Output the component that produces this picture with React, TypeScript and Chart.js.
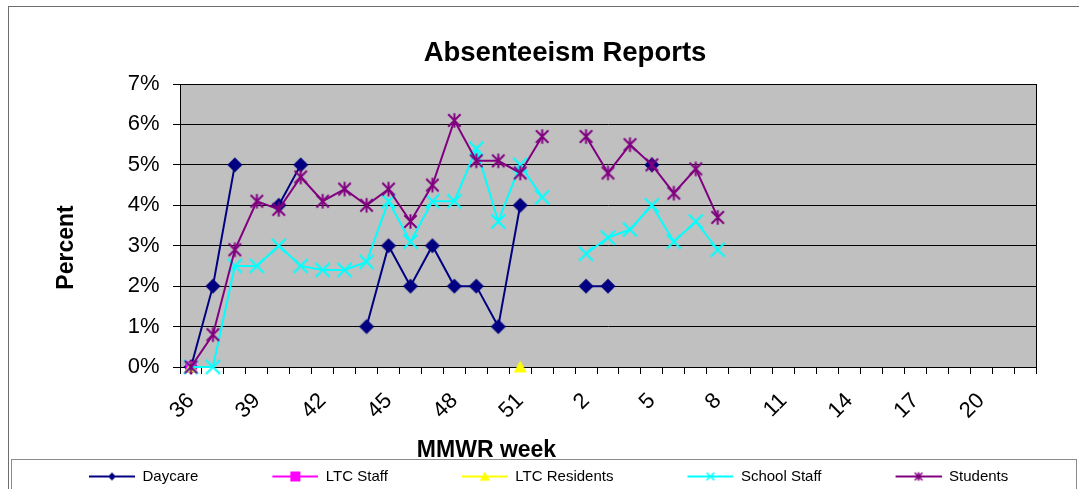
import React, { useEffect, useRef } from 'react';
import { Chart, registerables } from 'chart.js';

Chart.register(...registerables);

const FONT = "'Liberation Sans', Arial, sans-serif";

const weeks = [
  '36', '37', '38', '39', '40', '41', '42', '43', '44', '45', '46', '47', '48', '49', '50', '51', '52',
  '1', '2', '3', '4', '5', '6', '7', '8', '9', '10', '11', '12', '13', '14', '15', '16', '17', '18', '19', '20', '21', '22',
];
const shownWeekLabels = ['36', '39', '42', '45', '48', '51', '2', '5', '8', '11', '14', '17', '20'];

const daycare = [0, 2, 5, null, 4, 5, null, null, 1, 3, 2, 3, 2, 2, 1, 4, null, null, 2, 2, null, 5];
const ltcStaff = [0];
const ltcResidents = [0, null, null, null, null, null, null, null, null, null, null, null, null, null, null, 0];
const schoolStaff = [0, 0, 2.5, 2.5, 3.0, 2.5, 2.4, 2.4, 2.6, 4.1, 3.1, 4.1, 4.1, 5.4, 3.6, 5.0, 4.2, null, 2.8, 3.2, 3.4, 4.0, 3.1, 3.6, 2.9];
const students = [0, 0.8, 2.9, 4.1, 3.9, 4.7, 4.1, 4.4, 4.0, 4.4, 3.6, 4.5, 6.1, 5.1, 5.1, 4.8, 5.7, null, 5.7, 4.8, 5.5, 5.0, 4.3, 4.9, 3.7];

const seriesNames = ['Daycare', 'LTC Staff', 'LTC Residents', 'School Staff', 'Students'];
const seriesColors = ['#000080', '#FF00FF', '#FFFF00', '#00FFFF', '#800080'];
const seriesMarkers = ['diamond', 'square', 'triangle', 'x', 'star'];
const seriesValues = [daycare, ltcStaff, ltcResidents, schoolStaff, students];

const yMin = 0;
const yMax = 7;
const yStep = 1;

function drawMarker(ctx: CanvasRenderingContext2D, kind: string, cx: number, cy: number, s: number, color: string, lw: number) {
  ctx.save();
  ctx.fillStyle = color;
  ctx.strokeStyle = color;
  ctx.lineWidth = lw;
  ctx.beginPath();
  if (kind === 'diamond') {
    ctx.moveTo(cx, cy - s);
    ctx.lineTo(cx + s, cy);
    ctx.lineTo(cx, cy + s);
    ctx.lineTo(cx - s, cy);
    ctx.closePath();
    ctx.fill();
  } else if (kind === 'square') {
    ctx.fillRect(cx - s, cy - s, 2 * s, 2 * s);
  } else if (kind === 'triangle') {
    ctx.moveTo(cx, cy - s);
    ctx.lineTo(cx + s, cy + s * 0.85);
    ctx.lineTo(cx - s, cy + s * 0.85);
    ctx.closePath();
    ctx.fill();
  } else if (kind === 'x') {
    ctx.moveTo(cx - s, cy - s);
    ctx.lineTo(cx + s, cy + s);
    ctx.moveTo(cx + s, cy - s);
    ctx.lineTo(cx - s, cy + s);
    ctx.stroke();
  } else if (kind === 'star') {
    ctx.moveTo(cx - s, cy - s);
    ctx.lineTo(cx + s, cy + s);
    ctx.moveTo(cx + s, cy - s);
    ctx.lineTo(cx - s, cy + s);
    ctx.moveTo(cx, cy - s * 1.15);
    ctx.lineTo(cx, cy + s * 1.15);
    ctx.stroke();
  }
  ctx.restore();
}

function makeMarkerImage(kind: string, color: string, s: number, lw: number) {
  const c = document.createElement('canvas');
  const size = Math.ceil(s * 2.4) + 4;
  c.width = size;
  c.height = size;
  const ctx = c.getContext('2d') as CanvasRenderingContext2D;
  drawMarker(ctx, kind, size / 2, size / 2, s, color, lw);
  return c;
}

function makeLegendImage(kind: string, color: string, s: number) {
  const c = document.createElement('canvas');
  c.width = 110;
  c.height = 16;
  const ctx = c.getContext('2d') as CanvasRenderingContext2D;
  ctx.strokeStyle = color;
  ctx.lineWidth = 2;
  ctx.beginPath();
  ctx.moveTo(64, 8);
  ctx.lineTo(110, 8);
  ctx.stroke();
  drawMarker(ctx, kind, 87, 8, s, color, 1.6);
  return c;
}

const plotMarkerSizes: Record<string, number> = { diamond: 7.5, square: 5.5, triangle: 6.5, x: 7, star: 6.2 };
const legendMarkerSizes: Record<string, number> = { diamond: 4, square: 5, triangle: 5, x: 3.8, star: 3.8 };

const decorPlugin = {
  id: 'decor',
  beforeDraw(chart: any) {
    const { ctx, width, height, chartArea: a } = chart;
    ctx.save();
    ctx.fillStyle = '#FFFFFF';
    ctx.fillRect(0, 0, width, height);
    ctx.lineWidth = 1;
    ctx.strokeStyle = '#6e6e6e';
    ctx.strokeRect(8.5, 6.5, width + 40, height + 40);
    ctx.strokeStyle = '#8a8a8a';
    ctx.strokeRect(11.5, 459.5, 1065, height);
    ctx.fillStyle = '#C0C0C0';
    ctx.fillRect(a.left, a.top, a.right - a.left, a.bottom - a.top);
    ctx.restore();
  },
  beforeDatasetsDraw(chart: any) {
    const { ctx, chartArea: a } = chart;
    ctx.save();
    ctx.strokeStyle = '#000000';
    ctx.lineWidth = 1;
    const l = Math.round(a.left - 0.5) + 0.5;
    const r = Math.round(a.right - 0.5) + 0.5;
    const t = Math.round(a.top - 0.5) + 0.5;
    const b = Math.round(a.bottom - 0.5) + 0.5;
    ctx.strokeRect(l, t, r - l, b - t);
    ctx.restore();
  },
  afterDraw(chart: any) {
    const { ctx } = chart;
    ctx.save();
    ctx.fillStyle = '#000000';
    ctx.font = `bold 23px ${FONT}`;
    ctx.textAlign = 'center';
    ctx.textBaseline = 'alphabetic';
    ctx.fillText('MMWR week', 486.5, 457);
    ctx.translate(73, 247.5);
    ctx.rotate(-Math.PI / 2);
    ctx.fillText('Percent', 0, 0);
    ctx.restore();
  },
};

export default function App() {
  const canvasRef = useRef<HTMLCanvasElement | null>(null);

  useEffect(() => {
    const canvas = canvasRef.current;
    if (!canvas) return;

    const datasets = seriesNames.map((name, i) => ({
      label: name,
      data: seriesValues[i],
      borderColor: seriesColors[i],
      backgroundColor: seriesColors[i],
      borderWidth: 2,
      pointStyle: makeMarkerImage(seriesMarkers[i], seriesColors[i], plotMarkerSizes[seriesMarkers[i]], 2),
      pointRadius: 5,
      pointHoverRadius: 5,
      tension: 0,
      spanGaps: false,
      clip: false,
      order: seriesNames.length - 1 - i,
    }));

    const legendItems = seriesNames.map((name, i) => ({
      text: name,
      fillStyle: seriesColors[i],
      strokeStyle: seriesColors[i],
      fontColor: '#000000',
      lineWidth: 0,
      hidden: false,
      datasetIndex: i,
      pointStyle: makeLegendImage(seriesMarkers[i], seriesColors[i], legendMarkerSizes[seriesMarkers[i]]),
    }));

    const tickFont = { family: FONT, size: 22 };

    const chart = new Chart(canvas, {
      type: 'line',
      data: { labels: weeks, datasets: datasets as any },
      options: {
        animation: false,
        responsive: false,
        maintainAspectRatio: false,
        events: [],
        layout: { padding: { left: 15, right: 0, top: 0, bottom: 0 } },
        plugins: {
          title: {
            display: true,
            text: 'Absenteeism Reports',
            color: '#000000',
            font: { family: FONT, size: 27.5, weight: 'bold', lineHeight: 1.2 },
            padding: { top: 36.8, bottom: 14.2 },
          },
          legend: {
            position: 'bottom',
            align: 'start',
            labels: {
              usePointStyle: true,
              pointStyleWidth: 110,
              padding: 10,
              color: '#000000',
              font: { family: FONT, size: 15 },
              generateLabels: () => legendItems as any,
            },
          },
          tooltip: { enabled: false },
        },
        scales: {
          x: {
            type: 'category',
            offset: true,
            grid: { offset: true, drawOnChartArea: false, drawTicks: true, tickLength: 7, color: '#000000', lineWidth: 1 },
            border: { display: true, color: '#000000', width: 1 },
            ticks: {
              autoSkip: false,
              maxRotation: 45,
              minRotation: 45,
              padding: 14,
              color: '#000000',
              font: tickFont,
              callback: (_v: any, i: number) => (shownWeekLabels.includes(weeks[i]) ? weeks[i] : ''),
            },
            afterFit: (s: any) => {
              s.height = 92;
            },
          },
          y: {
            min: yMin,
            max: yMax,
            ticks: {
              stepSize: yStep,
              padding: 13.5,
              color: '#000000',
              font: tickFont,
              callback: (v: any) => `${v}%`,
            },
            grid: { color: '#000000', lineWidth: 1, drawTicks: true, tickLength: 7 },
            border: { display: true, color: '#000000', width: 1 },
            afterFit: (s: any) => {
              s.width = 165;
            },
          },
          yPad: {
            type: 'linear',
            position: 'right',
            display: true,
            grid: { display: false },
            ticks: { display: false },
            border: { display: false },
            afterFit: (s: any) => {
              s.width = 79;
            },
          },
        },
      } as any,
      plugins: [decorPlugin as any],
    });

    return () => {
      chart.destroy();
    };
  }, []);

  return (
    <div style={{ position: 'fixed', left: 0, top: 0, width: 1079, height: 489, overflow: 'hidden', background: '#fff' }}>
      <canvas ref={canvasRef} width={1115} height={494} style={{ display: 'block', width: 1115, height: 494 }} />
    </div>
  );
}
